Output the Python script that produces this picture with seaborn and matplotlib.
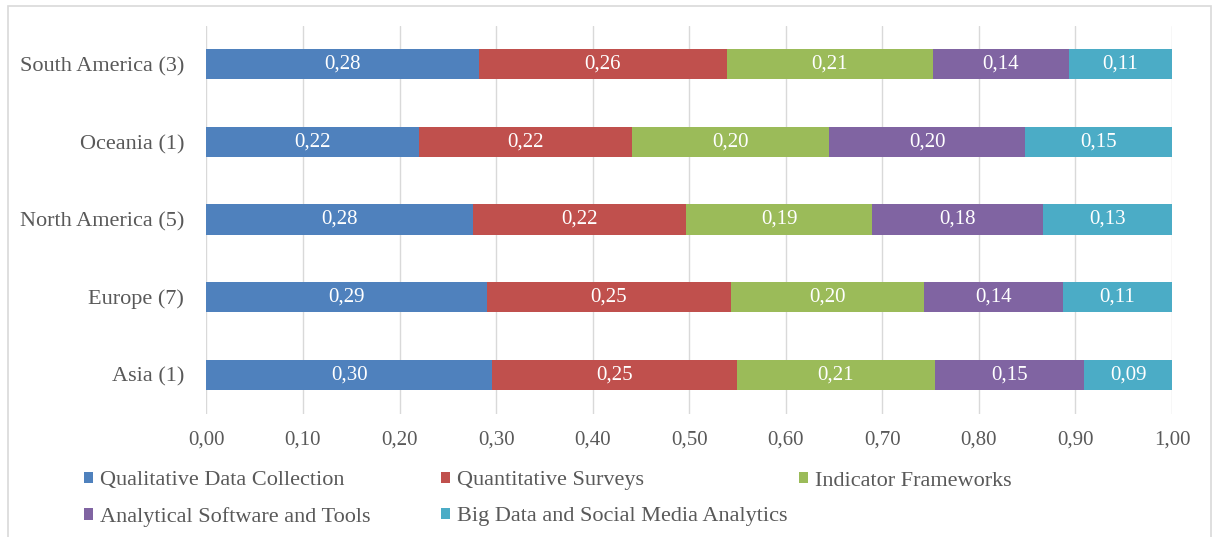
import numpy as np
import pandas as pd
import matplotlib
matplotlib.use("Agg")
import matplotlib.pyplot as plt
import seaborn as sns
from matplotlib.patches import Rectangle

# Share of each analysis method by region (number of studies in brackets)
regions = ["South America (3)", "Oceania (1)", "North America (5)", "Europe (7)", "Asia (1)"]
methods = [
    "Qualitative Data Collection",
    "Quantitative Surveys",
    "Indicator Frameworks",
    "Analytical Software and Tools",
    "Big Data and Social Media Analytics",
]
qualitative = [0.282, 0.220, 0.276, 0.291, 0.296]
quantitative = [0.257, 0.221, 0.221, 0.252, 0.253]
indicators = [0.213, 0.204, 0.192, 0.200, 0.206]
software = [0.141, 0.203, 0.177, 0.144, 0.154]
big_data = [0.107, 0.152, 0.134, 0.113, 0.091]
x_ticks = [0.0, 0.1, 0.2, 0.3, 0.4, 0.5, 0.6, 0.7, 0.8, 0.9, 1.0]

colors = ["#4F81BD", "#C0504D", "#9BBB59", "#8064A2", "#4BACC6"]
text_grey = "#595959"
grid_grey = "#D9D9D9"

sns.set_theme(style="white")
plt.rcParams["font.family"] = ["Liberation Serif", "DejaVu Serif"]

W, H = 1218, 537
fig = plt.figure(figsize=(W / 100, H / 100), dpi=100)
ax = fig.add_axes([206.4 / W, 1 - 413.5 / H, (1172 - 206.4) / W, 388 / H])

series = [qualitative, quantitative, indicators, software, big_data]
df = pd.DataFrame({"region": regions})
for name, vals in zip(methods, series):
    df[name] = vals
cum = df[methods].cumsum(axis=1)

# stacked bars: draw the running totals from the longest to the shortest
handles = {}
for name, color in reversed(list(zip(methods, colors))):
    sns.barplot(data=cum.assign(region=df["region"]), x=name, y="region",
                orient="h", color=color, saturation=1, width=0.39,
                linewidth=0, ax=ax)
    handles[name] = ax.containers[-1]

# segment value labels
for name in methods:
    for j, region in enumerate(regions):
        v = df.loc[j, name]
        ax.text(cum.loc[j, name] - v / 2, j, f"{v:.2f}".replace(".", ","),
                ha="center", va="center", color="white", fontsize=15)

ax.set_xlim(0, 1)
ax.set_ylim(4.5, -0.5)
ax.set_xticks(x_ticks)
ax.set_xticklabels([f"{t:.2f}".replace(".", ",") for t in x_ticks])
ax.set_xlabel("")
ax.set_ylabel("")
ax.grid(axis="x", color=grid_grey, linewidth=1)
ax.grid(axis="y", visible=False)
ax.set_axisbelow(True)
for s in ax.spines.values():
    s.set_visible(False)
ax.tick_params(axis="x", length=0, pad=12, labelsize=15, labelcolor=text_grey)
ax.tick_params(axis="y", length=0, pad=16, labelsize=16, labelcolor=text_grey)

# legend entries laid out on a fixed grid
slots = [(84, 481), (441, 481), (799, 481), (84, 517), (441, 517)]
for name, (lx, ly) in zip(methods, slots):
    fig.legend(handles=[handles[name]], labels=[name], loc="center left",
               bbox_to_anchor=(lx / W, 1 - ly / H), frameon=False,
               borderpad=0, borderaxespad=0, handlelength=0.42,
               handleheight=0.42, handletextpad=0.3, fontsize=16,
               labelcolor=text_grey)

# thin outer frame of the chart area
fig.patches.append(Rectangle((8 / W, -0.1), (1211 - 8) / W, 1.1 - 6 / H,
                             transform=fig.transFigure, fill=False,
                             edgecolor=grid_grey, linewidth=1.2))

fig.savefig("out.png", dpi=100, facecolor="white")
